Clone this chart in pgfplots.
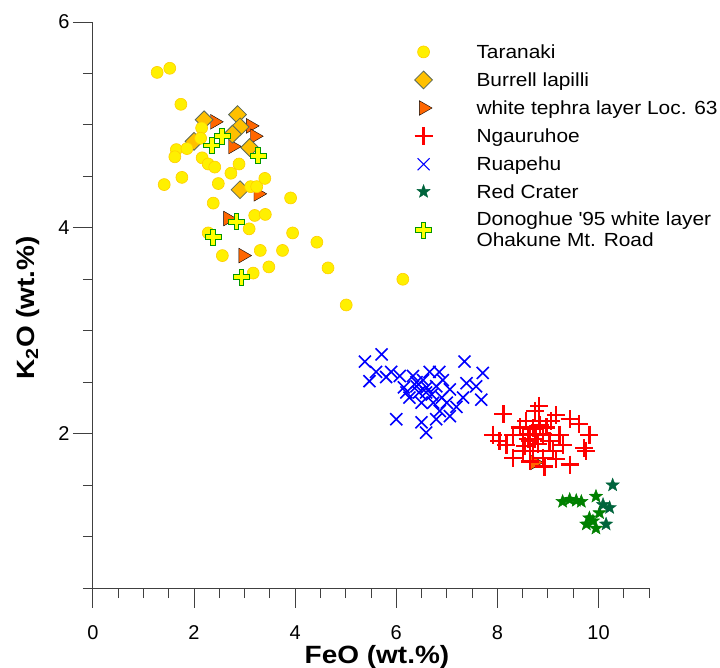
\documentclass[border=0pt]{standalone}
\usepackage{pgfplots}
\pgfplotsset{compat=1.18}
\usepackage{fontspec}
\setmainfont{Liberation Sans}
\newfontfamily\legfont[FakeStretch=1.1]{Liberation Sans}
\newfontfamily\labfont[FakeStretch=1.12]{Liberation Sans}
\usetikzlibrary{plotmarks}

\pgfdeclareplotmark{fatplus}{%
  \pgfpathmoveto{\pgfqpoint{-0.3\pgfplotmarksize}{\pgfplotmarksize}}%
  \pgfpathlineto{\pgfqpoint{0.3\pgfplotmarksize}{\pgfplotmarksize}}%
  \pgfpathlineto{\pgfqpoint{0.3\pgfplotmarksize}{0.3\pgfplotmarksize}}%
  \pgfpathlineto{\pgfqpoint{\pgfplotmarksize}{0.3\pgfplotmarksize}}%
  \pgfpathlineto{\pgfqpoint{\pgfplotmarksize}{-0.3\pgfplotmarksize}}%
  \pgfpathlineto{\pgfqpoint{0.3\pgfplotmarksize}{-0.3\pgfplotmarksize}}%
  \pgfpathlineto{\pgfqpoint{0.3\pgfplotmarksize}{-\pgfplotmarksize}}%
  \pgfpathlineto{\pgfqpoint{-0.3\pgfplotmarksize}{-\pgfplotmarksize}}%
  \pgfpathlineto{\pgfqpoint{-0.3\pgfplotmarksize}{-0.3\pgfplotmarksize}}%
  \pgfpathlineto{\pgfqpoint{-\pgfplotmarksize}{-0.3\pgfplotmarksize}}%
  \pgfpathlineto{\pgfqpoint{-\pgfplotmarksize}{0.3\pgfplotmarksize}}%
  \pgfpathlineto{\pgfqpoint{-0.3\pgfplotmarksize}{0.3\pgfplotmarksize}}%
  \pgfpathclose
  \pgfusepathqfillstroke}

\pgfdeclareplotmark{fstar}{%
  \pgfpathmoveto{\pgfpointpolar{90}{\pgfplotmarksize}}%
  \pgfpathlineto{\pgfpointpolar{126}{0.42\pgfplotmarksize}}%
  \pgfpathlineto{\pgfpointpolar{162}{\pgfplotmarksize}}%
  \pgfpathlineto{\pgfpointpolar{198}{0.42\pgfplotmarksize}}%
  \pgfpathlineto{\pgfpointpolar{234}{\pgfplotmarksize}}%
  \pgfpathlineto{\pgfpointpolar{270}{0.42\pgfplotmarksize}}%
  \pgfpathlineto{\pgfpointpolar{306}{\pgfplotmarksize}}%
  \pgfpathlineto{\pgfpointpolar{342}{0.42\pgfplotmarksize}}%
  \pgfpathlineto{\pgfpointpolar{18}{\pgfplotmarksize}}%
  \pgfpathlineto{\pgfpointpolar{54}{0.42\pgfplotmarksize}}%
  \pgfpathclose
  \pgfusepathqfillstroke}

\definecolor{taraF}{RGB}{255,240,0}
\definecolor{taraD}{RGB}{255,205,0}
\definecolor{burF}{RGB}{255,192,0}
\definecolor{burD}{RGB}{90,105,90}
\definecolor{triF}{RGB}{255,102,0}
\definecolor{ngaC}{RGB}{255,0,0}
\definecolor{ruaC}{RGB}{0,0,255}
\definecolor{rcC}{RGB}{0,128,0}
\definecolor{rcD}{RGB}{0,100,60}
\definecolor{donF}{RGB}{255,255,0}
\definecolor{donD}{RGB}{0,150,0}

\pgfplotsset{
  tara/.style={mark=*, mark size=6pt, draw=taraD, fill=taraF, line width=0.6pt},
  bur/.style={mark=square*, mark size=6.3pt, draw=burD, fill=burF, line width=0.8pt, mark options={rotate=45}},
  tri/.style={mark=triangle*, mark size=8.5pt, draw=none, fill=triF, mark options={rotate=-90}},
  nga/.style={mark=+, mark size=9pt, draw=ngaC, line width=2.2pt},
  rua/.style={mark=x, mark size=8.5pt, draw=ruaC, line width=1.6pt},
  rc/.style={mark=fstar, mark size=7pt, draw=rcC, fill=rcC, line width=0.4pt},
  rcd/.style={mark=fstar, mark size=7pt, draw=rcD, fill=rcD, line width=0.4pt},
  don/.style={mark=fatplus, mark size=8pt, draw=donD, fill=donF, line width=1pt},
}

\begin{document}
\begin{tikzpicture}
\begin{axis}[
  name=ax,
  scale only axis,
  width=556.6pt, height=566.5pt,
  xmin=0, xmax=11, ymin=0.5, ymax=6,
  axis x line*=bottom, axis y line*=left,
  axis line style={black!75, line width=0.9pt},
  every tick/.style={black!75, line width=0.9pt},
  tick align=outside,
  major tick length=20pt, minor tick length=10pt,
  xtick={0,2,4,6,8,10},
  minor xtick={0.5,1,1.5,2.5,3,3.5,4.5,5,5.5,6.5,7,7.5,8.5,9,9.5,10.5,11},
  ytick={2,4,6},
  minor ytick={0.5,1,1.5,2.5,3,3.5,4.5,5,5.5},
  /pgf/number format/assume math mode=true,
  ticklabel style={font=\fontsize{20}{24}\selectfont},
  xticklabel style={yshift=-14pt},
  xlabel={\bfseries FeO (wt.\%)},
  ylabel={\bfseries K\textsubscript{2}O (wt.\%)},
  label style={font=\labfont\fontsize{25}{30}\selectfont},
  xlabel style={at={(axis description cs:0.5,0)}, anchor=north, yshift=-54pt, xshift=6pt},
  ylabel style={at={(axis description cs:-0.117,0.495)}, anchor=center},
  clip=false,
  legend image code/.code={\draw[#1] plot coordinates {(0pt,0pt)};},
  legend cell align=left,
  legend style={draw=none, fill=none, at={(rel axis cs:0.578,0.962)}, anchor=north west,
    inner sep=0pt, column sep=44pt, row sep=10.9pt,
    nodes={inner sep=0pt},
    font=\legfont\fontsize{19}{21}\selectfont},
]
% data, drawn in the reference's stacking order
\addplot[only marks, tri, forget plot] coordinates {
(2.41,5.03)(3.12,4.99)(3.20,4.89)(2.77,4.79)(3.27,4.33)(2.67,4.09)(2.97,3.73)(8.74,1.72)
};
\addplot[only marks, bur, forget plot] coordinates {
(2.20,5.05)(2.86,5.10)(2.91,4.98)(2.76,4.91)(2.00,4.84)(3.10,4.78)(2.91,4.37)
};
\addplot[only marks, tara, forget plot] coordinates {
(1.27,5.51)(1.52,5.55)(1.74,5.20)(2.15,4.97)(2.13,4.87)(1.65,4.76)(1.62,4.69)(1.86,4.77)
(2.16,4.68)(2.28,4.62)(2.41,4.59)(2.89,4.62)(2.73,4.53)(1.41,4.42)(1.76,4.49)(2.48,4.43)
(3.12,4.40)(3.24,4.40)(3.40,4.48)(2.38,4.24)(3.91,4.29)(3.20,4.12)(3.41,4.13)(3.09,3.99)
(2.28,3.95)(3.95,3.95)(4.43,3.86)(2.56,3.73)(3.31,3.78)(3.75,3.78)(3.48,3.62)(3.17,3.56)
(4.65,3.61)(6.13,3.50)(5.01,3.25)
};
\addplot[only marks, rua, forget plot] coordinates {
(5.38,2.70)(5.71,2.77)(5.47,2.51)(5.90,2.60)(6.07,2.56)(7.35,2.70)(7.71,2.59)(7.68,2.33)
(6.00,2.14)(6.59,2.01)(7.06,2.17)(6.50,2.11)(6.66,2.60)(6.40,2.46)(6.79,2.46)(7.06,2.43)
(7.32,2.35)(6.26,2.35)(6.73,2.30)(7.19,2.26)(6.92,2.52)(6.53,2.52)(7.39,2.49)(6.33,2.56)
(6.86,2.22)(6.20,2.40)(6.59,2.40)(6.79,2.14)(7.58,2.46)(6.45,2.40)(6.60,2.45)(6.70,2.38)
(6.50,2.30)(6.90,2.35)(7.00,2.30)(6.40,2.50)(6.15,2.45)(5.60,2.60)(5.80,2.55)(6.85,2.60)
};
\addplot[only marks, nga, forget plot] coordinates {
(8.12,2.19)(8.83,2.27)(8.74,2.22)(9.16,2.18)(9.43,2.14)(9.62,2.09)(7.91,1.99)(9.82,1.99)
(9.76,1.83)(9.43,1.70)(8.18,1.89)(8.31,1.76)(8.50,1.83)(8.44,2.06)(8.97,2.06)(9.23,1.99)
(9.29,1.89)(8.90,1.76)(8.64,1.93)(8.77,1.99)(9.03,1.93)(8.50,1.99)(8.31,1.99)(9.10,1.83)
(8.70,1.83)(8.83,2.12)(8.57,2.12)(9.06,2.12)(8.64,1.73)(9.16,1.75)(8.04,1.93)(9.72,1.86)
(8.93,1.68)(8.60,1.95)(8.70,2.05)(8.80,1.90)(8.90,2.00)(8.55,1.88)(8.75,1.95)(8.85,2.08)
(8.65,2.00)
};
\addplot[only marks, rc, forget plot] coordinates {
(9.29,1.34)(9.43,1.36)(9.56,1.35)(9.66,1.34)(9.95,1.39)(9.82,1.18)(9.76,1.12)(9.95,1.08)
(9.89,1.15)(10.02,1.23)
};
\addplot[only marks, rcd, forget plot] coordinates {
(10.28,1.50)(10.09,1.31)(10.22,1.28)(10.15,1.12)
};
\addplot[only marks, don, forget plot] coordinates {
(2.56,4.89)(2.35,4.80)(3.27,4.70)(2.84,4.06)(2.38,3.91)(2.94,3.52)
};
% legend
\addlegendimage{tara}
\addlegendentry{\rule[-5pt]{0pt}{20pt}Taranaki}
\addlegendimage{bur}
\addlegendentry{\rule[-5pt]{0pt}{20pt}Burrell lapilli}
\addlegendimage{tri}
\addlegendentry{\rule[-5pt]{0pt}{20pt}white tephra layer Loc. 63}
\addlegendimage{nga}
\addlegendentry{\rule[-5pt]{0pt}{20pt}Ngauruhoe}
\addlegendimage{rua, line width=1pt}
\addlegendentry{\rule[-5pt]{0pt}{20pt}Ruapehu}
\addlegendimage{rcd}
\addlegendentry{\rule[-5pt]{0pt}{20pt}Red Crater}
\addlegendimage{don, yshift=-6pt}
\addlegendentry{\begin{tabular}[c]{@{}l@{}}Donoghue \textquotesingle 95 white layer\\Ohakune Mt. Road\end{tabular}}
\end{axis}
\pgfresetboundingbox
\path ([shift={(-93pt,-80pt)}]ax.south west) rectangle ([shift={(71pt,22pt)}]ax.north east);
\end{tikzpicture}
\end{document}
